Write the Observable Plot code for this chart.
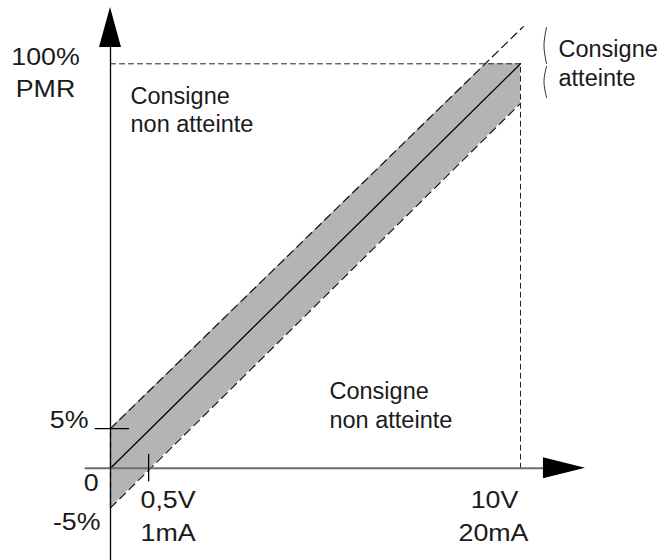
<!DOCTYPE html>
<html>
<head>
<meta charset="utf-8">
<script src="https://cdn.jsdelivr.net/npm/d3@7"></script>
<script src="https://cdn.jsdelivr.net/npm/@observablehq/plot@0.6"></script>
<style>
  html, body { margin: 0; padding: 0; background: #fff; }
  svg { display: block; }
</style>
</head>
<body>
<div id="chart"></div>
<script>
// Schematic values (x in volts, y in % PMR; tolerance band drawn exaggerated)
const setX = [0, 10];
const setY = [0, 100];

const bandX    = [0, 9.146, 10];
const bandLow  = [-9.8, 81.66, 90.2];
const bandHigh = [9.8, 100, 100];

const upperX = [0, 10.07];
const upperY = [9.8, 109.2];
const lowerX = [0, 10];
const lowerY = [-9.8, 90.2];

const tick5pctY = 9.8;      // "5%" tick level
const tick05VX = 0.93;      // "0,5V" tick position
const fullScaleX = 10;      // 10V / 20mA
const fullScaleY = 100;     // 100% PMR

const yAxisTop = 113.9, yAxisBottom = -22.8;
const xAxisLeft = -0.61, xAxisRight = 11.585;

const labelText   = ["100%", "PMR", "Consigne", "non atteinte", "Consigne", "non atteinte",
                     "Consigne", "atteinte", "5%", "0", "-5%", "0,5V", "1mA", "10V", "20mA"];
const labelX      = [-1.585, -1.585, 0.488, 0.488, 5.341, 5.341,
                     10.927, 10.927, -0.537, -0.47, -0.244, 0.732, 0.732, 9.366, 9.341];
const labelY      = [99.58, 91.67, 89.94, 83.02, 16.99, 9.82,
                     101.56, 94.39, 9.82, -5.69, -15.31, -9.72, -18.12, -9.96, -17.88];
const labelAnchor = ["middle", "middle", "start", "start", "start", "start",
                     "start", "start", "end", "middle", "end", "start", "start", "middle", "middle"];

const braceTopX = [10.634, 10.573, 10.634];
const braceTopY = [108.97, 104.52, 100.07];
const braceBotX = [10.634, 10.573, 10.634];
const braceBotY = [99.33, 95.62, 91.67];

const band = bandX.map((x, i) => ({x, y1: bandLow[i], y2: bandHigh[i]}));
const pts = (xs, ys) => xs.map((x, i) => ({x, y: ys[i]}));
const labels = labelText.map((t, i) => ({t, x: labelX[i], y: labelY[i], a: labelAnchor[i]}));

const font = "Helvetica, 'Liberation Sans', Arial, sans-serif";
const textOpts = a => ({
  x: "x", y: "y", text: "t", textAnchor: a, lineAnchor: "bottom",
  fontSize: 23.5, fill: "#1a1a1a"
});

const chart = Plot.plot({
  width: 662,
  height: 560,
  margin: 0,
  style: {fontFamily: font, background: "#fff", overflow: "visible"},
  x: {type: "linear", domain: [0, 10], range: [110, 520], axis: null},
  y: {type: "linear", domain: [0, 100], range: [467.7, 63.3], axis: null},
  marks: [
    // tolerance band
    Plot.areaY(band, {x: "x", y1: "y1", y2: "y2", fill: "#b4b4b4", curve: "linear"}),
    // dashed band edges
    Plot.line(pts(upperX, upperY), {x: "x", y: "y", stroke: "#111", strokeWidth: 1.2, strokeDasharray: "8,5"}),
    Plot.line(pts(lowerX, lowerY), {x: "x", y: "y", stroke: "#111", strokeWidth: 1.2, strokeDasharray: "8,5"}),
    Plot.line(pts([0, 0], [bandLow[0], bandHigh[0]]), {x: "x", y: "y", stroke: "#111", strokeWidth: 1.2, strokeDasharray: "6,4"}),
    // full-scale guides
    Plot.line(pts([0, fullScaleX], [fullScaleY, fullScaleY]), {x: "x", y: "y", stroke: "#222", strokeWidth: 1, strokeDasharray: "5,4"}),
    Plot.line(pts([fullScaleX, fullScaleX], [0, fullScaleY]), {x: "x", y: "y", stroke: "#222", strokeWidth: 1, strokeDasharray: "5,4"}),
    // setpoint line
    Plot.line(pts(setX, setY), {x: "x", y: "y", stroke: "#000", strokeWidth: 1.3}),
    // axes
    Plot.line(pts([xAxisLeft, 10.6], [0, 0]), {x: "x", y: "y", stroke: "#6e6e6e", strokeWidth: 2}),
    Plot.line(pts([0, 0], [yAxisBottom, 105]), {x: "x", y: "y", stroke: "#000", strokeWidth: 1.3}),
    // arrowheads
    Plot.areaY(pts([-0.268, 0, 0.268], [104, yAxisTop, 104]), {x: "x", y1: 104, y2: "y", fill: "#000"}),
    Plot.areaX(pts([10.56, xAxisRight, 10.56], [-2.6, 0, 2.6]), {y: "y", x1: 10.56, x2: "x", fill: "#000"}),
    // ticks
    Plot.line(pts([-0.37, 0.44], [tick5pctY, tick5pctY]), {x: "x", y: "y", stroke: "#000", strokeWidth: 1.3}),
    Plot.line(pts([tick05VX, tick05VX], [-3.1, 3.4]), {x: "x", y: "y", stroke: "#000", strokeWidth: 1.3}),
    // brace
    Plot.line(pts(braceTopX, braceTopY), {x: "x", y: "y", stroke: "#333", strokeWidth: 1, curve: "natural"}),
    Plot.line(pts(braceBotX, braceBotY), {x: "x", y: "y", stroke: "#333", strokeWidth: 1, curve: "natural"}),
    // labels
    Plot.text(labels.filter(d => d.a === "start"), textOpts("start")),
    Plot.text(labels.filter(d => d.a === "middle"), textOpts("middle")),
    Plot.text(labels.filter(d => d.a === "end"), textOpts("end"))
  ]
});

document.getElementById("chart").appendChild(chart);

// the numeric / unit labels use horizontally wider glyphs in the reference
d3.select(chart).selectAll("text")
  .filter(function () { return /[0-9]|PMR/.test(this.textContent); })
  .each(function () {
    const len = this.getComputedTextLength();
    this.setAttribute("textLength", (len * 1.14).toFixed(1));
    this.setAttribute("lengthAdjust", "spacingAndGlyphs");
  });
</script>
</body>
</html>
